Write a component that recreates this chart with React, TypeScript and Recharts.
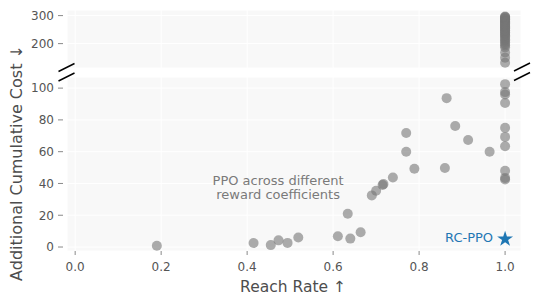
import React from 'react';
import {
  ScatterChart,
  Scatter,
  XAxis,
  YAxis,
  CartesianGrid,
  ReferenceDot,
  Symbols,
} from 'recharts';

// ---- data ----
const ppoReach = [
  0.19, 0.415, 0.455, 0.473, 0.494, 0.519, 0.611, 0.64, 0.664, 0.634,
  0.69, 0.70, 0.715, 0.717, 0.739, 0.77, 0.77, 0.789, 0.864, 0.884,
  0.914, 0.86, 0.964,
  1.0, 1.0, 1.0, 1.0, 1.0, 1.0, 1.0, 1.0, 1.0, 1.0,
];
const ppoCost = [
  0.8, 2.5, 1.2, 4.2, 2.6, 6.0, 6.8, 5.3, 9.3, 20.9,
  32.5, 35.4, 39.0, 39.6, 43.8, 71.8, 60.0, 49.3, 93.7, 76.2,
  67.4, 49.7, 60.0,
  102.5, 97.5, 96.0, 90.6, 75.0, 69.3, 63.4, 48.0, 43.5, 42.5,
];
const highReach = [
  1.0, 1.0, 1.0, 1.0, 1.0, 1.0, 1.0, 1.0, 1.0, 1.0,
  1.0, 1.0, 1.0, 1.0, 1.0, 1.0, 1.0, 1.0, 1.0, 1.0,
  1.0, 1.0, 1.0, 1.0, 1.0, 1.0, 1.0, 1.0, 1.0, 1.0,
  1.0, 1.0, 1.0, 1.0,
];
const highCost = [
  297, 295, 293, 290, 287, 285, 282, 279, 276, 273,
  270, 267, 264, 261, 258, 255, 252, 248, 245, 241,
  238, 234, 230, 226, 221, 216, 211, 205, 199, 193,
  186, 168, 150, 132,
];
const rcReach = [1.0];
const rcCost = [5];

const xTicks = [0, 0.2, 0.4, 0.6, 0.8, 1.0];
const lowTicks = [0, 20, 40, 60, 80, 100];
const highTicks = [200, 300];

const xDomain: [number, number] = [-0.019, 1.037];
const lowDomain: [number, number] = [-2.5, 107];
const highDomain: [number, number] = [113, 320];

const annotationLines = ['PPO across different', 'reward coefficients'];
const rcLabel = 'RC-PPO';
const xLabel = 'Reach Rate \u2191';
const yLabel = 'Additional Cumulative Cost \u2193';

// ---- build ----
const allPoints = [
  ...ppoReach.map((x, i) => ({ x, y: ppoCost[i] })),
  ...highReach.map((x, i) => ({ x, y: highCost[i] })),
];
const lowData = allPoints.filter((d) => d.y <= lowDomain[1]);
const highData = allPoints.filter((d) => d.y >= highDomain[0]);
const rcData = rcReach.map((x, i) => ({ x, y: rcCost[i] }));

const FONT = 'DejaVu Sans, Verdana, sans-serif';
const TICK_COLOR = '#555';
const TICKLINE_COLOR = '#8a8a8a';
const BLUE = '#1f77b4';

const Dot = (props: any) => (
  <circle cx={props.cx} cy={props.cy} r={5} fill="#777" fillOpacity={0.6} />
);

const Star = (props: any) => (
  <Symbols type="star" size={78} cx={props.cx} cy={props.cy} fill={BLUE} />
);

const YTick = (props: any) => {
  const { x, y, payload } = props;
  return (
    <g>
      <line x1={x} x2={x + 5} y1={y} y2={y} stroke={TICKLINE_COLOR} strokeWidth={1} />
      <text
        x={x - 4}
        y={y}
        dy={4.3}
        textAnchor="end"
        fontSize={12}
        fill={TICK_COLOR}
        fontFamily={FONT}
      >
        {payload.value}
      </text>
    </g>
  );
};

const AnnotationLabel = (props: any) => {
  const vb = props.viewBox || {};
  const cx = vb.x + (vb.width || 0) / 2;
  const cy = vb.y + (vb.height || 0) / 2;
  return (
    <text
      x={cx}
      y={cy}
      textAnchor="middle"
      fontSize={13}
      fill="#7a7a7a"
      fontFamily={FONT}
    >
      <tspan x={cx} dy={-2}>{annotationLines[0]}</tspan>
      <tspan x={cx} dy={14.5}>{annotationLines[1]}</tspan>
    </text>
  );
};

const RcLabel = (props: any) => {
  const vb = props.viewBox || {};
  const cx = vb.x + (vb.width || 0) / 2;
  const cy = vb.y + (vb.height || 0) / 2;
  return (
    <text
      x={cx - 12}
      y={cy + 3}
      textAnchor="end"
      fontSize={13}
      fill={BLUE}
      fontFamily={FONT}
    >
      {rcLabel}
    </text>
  );
};

export default function App() {
  return (
    <div
      style={{
        position: 'absolute',
        left: 0,
        top: 0,
        width: 540,
        height: 305,
        background: '#fff',
        overflow: 'hidden',
        fontFamily: FONT,
      }}
    >
      {/* upper panel */}
      <div style={{ position: 'absolute', left: 0, top: 0 }}>
        <ScatterChart
          width={540}
          height={75}
          margin={{ top: 10, right: 19, bottom: 7, left: 0 }}
        >
          <CartesianGrid fill="#f8f8f8" stroke="#ffffff" strokeWidth={1} />
          <XAxis
            type="number"
            dataKey="x"
            domain={xDomain}
            ticks={xTicks}
            hide
          />
          <YAxis
            type="number"
            dataKey="y"
            domain={highDomain}
            ticks={highTicks}
            width={67}
            axisLine={false}
            tickLine={false}
            tickSize={4}
            tickMargin={5}
            tick={YTick}
          />
          <Scatter data={highData} shape={Dot} isAnimationActive={false} />
        </ScatterChart>
      </div>

      {/* lower panel */}
      <div style={{ position: 'absolute', left: 0, top: 67 }}>
        <ScatterChart
          width={540}
          height={238}
          margin={{ top: 10, right: 19, bottom: 24, left: 0 }}
        >
          <CartesianGrid fill="#f8f8f8" stroke="#ffffff" strokeWidth={1} />
          <XAxis
            type="number"
            dataKey="x"
            domain={xDomain}
            ticks={xTicks}
            height={30}
            axisLine={false}
            tickSize={4}
            tickMargin={7}
            tickLine={{ stroke: TICKLINE_COLOR }}
            tick={{ fontSize: 12, fill: TICK_COLOR, fontFamily: FONT }}
            tickFormatter={(v: number) => v.toFixed(1)}
          />
          <YAxis
            type="number"
            dataKey="y"
            domain={lowDomain}
            ticks={lowTicks}
            width={67}
            axisLine={false}
            tickLine={false}
            tickSize={4}
            tickMargin={5}
            tick={YTick}
          />
          <Scatter data={lowData} shape={Dot} isAnimationActive={false} />
          <Scatter data={rcData} shape={Star} isAnimationActive={false} />
          <ReferenceDot
            x={0.472}
            y={38}
            r={0}
            fill="none"
            stroke="none"
            label={AnnotationLabel}
          />
          <ReferenceDot
            x={rcReach[0]}
            y={rcCost[0]}
            r={0}
            fill="none"
            stroke="none"
            label={RcLabel}
          />
        </ScatterChart>
      </div>

      {/* axis titles and break marks */}
      <svg
        width={540}
        height={305}
        style={{ position: 'absolute', left: 0, top: 0, pointerEvents: 'none' }}
      >
        <text
          x={293}
          y={292}
          textAnchor="middle"
          fontSize={15.5}
          fill="#4d4d4d"
          fontFamily={FONT}
        >
          {xLabel}
        </text>
        <text
          transform="translate(16.5,163) rotate(-90)"
          x={0}
          y={0}
          textAnchor="middle"
          dominantBaseline="central"
          fontSize={16}
          fill="#4d4d4d"
          fontFamily={FONT}
        >
          {yLabel}
        </text>
        <g stroke="#000" strokeWidth={1.4}>
          <line x1={58.5} y1={71.5} x2={74.5} y2={63.5} />
          <line x1={58.5} y1={81} x2={74.5} y2={73} />
          <line x1={514} y1={71} x2={530} y2={63} />
          <line x1={514} y1={80.5} x2={530} y2={72.5} />
        </g>
      </svg>
    </div>
  );
}
